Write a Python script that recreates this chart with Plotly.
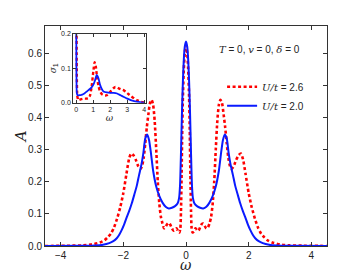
import plotly.graph_objects as go

# ---- main panel: spectral function A(omega) ----
omega_red = [-4.5, -3.7, -3.3, -3.0, -2.75, -2.6, -2.5, -2.4, -2.3, -2.2, -2.1, -2.0, -1.9, -1.82,
             -1.75, -1.68, -1.6, -1.52, -1.45, -1.4, -1.35, -1.3, -1.25, -1.2, -1.15, -1.1, -1.05,
             -1.0, -0.95, -0.9, -0.85, -0.8, -0.75, -0.7, -0.65, -0.6, -0.55, -0.5, -0.45, -0.4,
             -0.35, -0.3, -0.25, -0.21, -0.18, -0.16, -0.14, -0.12, -0.1, -0.07, -0.04, 0.0,
             0.04, 0.07, 0.1, 0.12, 0.14, 0.16, 0.18, 0.21, 0.25, 0.3, 0.35, 0.4, 0.45, 0.5,
             0.55, 0.6, 0.65, 0.7, 0.75, 0.8, 0.85, 0.9, 0.95, 1.0, 1.05, 1.1, 1.15, 1.2, 1.25,
             1.3, 1.35, 1.4, 1.45, 1.52, 1.6, 1.68, 1.75, 1.82, 1.9, 2.0, 2.1, 2.2, 2.3, 2.4,
             2.5, 2.6, 2.75, 3.0, 3.3, 3.7, 4.5]
A_red = [0.0, 0.001, 0.002, 0.005, 0.011, 0.018, 0.027, 0.038, 0.057, 0.085, 0.12, 0.165, 0.225, 0.27,
         0.288, 0.283, 0.268, 0.248, 0.24, 0.25, 0.275, 0.32, 0.37, 0.41, 0.445, 0.455, 0.44,
         0.39, 0.30, 0.20, 0.13, 0.09, 0.07, 0.055, 0.06, 0.068, 0.072, 0.066, 0.055, 0.048,
         0.05, 0.055, 0.045, 0.042, 0.055, 0.11, 0.22, 0.36, 0.46, 0.55, 0.60, 0.625,
         0.60, 0.55, 0.46, 0.36, 0.22, 0.11, 0.055, 0.042, 0.045, 0.055, 0.05, 0.048, 0.058, 0.068,
         0.070, 0.062, 0.055, 0.058, 0.07, 0.09, 0.13, 0.20, 0.30, 0.39, 0.44, 0.455, 0.445, 0.41, 0.37,
         0.32, 0.275, 0.25, 0.24, 0.248, 0.268, 0.283, 0.288, 0.27, 0.225, 0.165, 0.12, 0.085, 0.057, 0.038,
         0.027, 0.018, 0.011, 0.005, 0.002, 0.001, 0.0]

omega_blue = [-4.5, -3.3, -2.9, -2.65, -2.45, -2.32, -2.21, -2.13, -2.05, -1.97, -1.89, -1.81, -1.73,
              -1.65, -1.57, -1.5, -1.42, -1.36, -1.3, -1.24, -1.18, -1.12, -1.05, -0.95, -0.85,
              -0.75, -0.65, -0.55, -0.45, -0.35, -0.27, -0.22, -0.19, -0.16, -0.13, -0.1, -0.07,
              -0.04, 0.0, 0.04, 0.07, 0.1, 0.13, 0.16, 0.19, 0.22, 0.27, 0.35, 0.45, 0.55, 0.65,
              0.75, 0.85, 0.95, 1.05, 1.12, 1.18, 1.24, 1.3, 1.36, 1.42, 1.5, 1.57, 1.65, 1.73,
              1.81, 1.89, 1.97, 2.05, 2.13, 2.21, 2.32, 2.45, 2.65, 2.9, 3.3, 4.5]
A_blue = [0.0, 0.0005, 0.0015, 0.004, 0.009, 0.015, 0.024, 0.035, 0.05, 0.068, 0.09, 0.11, 0.133,
          0.16, 0.188, 0.22, 0.255, 0.29, 0.335, 0.347, 0.33, 0.29, 0.235, 0.185, 0.155,
          0.135, 0.122, 0.117, 0.119, 0.124, 0.132, 0.15, 0.19, 0.29, 0.41, 0.51, 0.58,
          0.62, 0.637, 0.62, 0.58, 0.51, 0.41, 0.29, 0.19, 0.15, 0.132, 0.124, 0.119, 0.117, 0.122,
          0.135, 0.155, 0.185, 0.235, 0.29, 0.33, 0.347, 0.335, 0.29, 0.255, 0.22, 0.188, 0.16, 0.133,
          0.11, 0.09, 0.068, 0.05, 0.035, 0.024, 0.015, 0.009, 0.004, 0.0015, 0.0005, 0.0]

# ---- inset: optical conductivity sigma_1(omega) ----
omega_in_red = [0.0, 0.03, 0.06, 0.12, 0.25, 0.4, 0.55, 0.7, 0.8, 0.9, 1.0, 1.08, 1.15, 1.22, 1.3,
                1.4, 1.5, 1.6, 1.7, 1.8, 1.9, 2.0, 2.1, 2.2, 2.3, 2.4, 2.5, 2.6, 2.7, 2.8, 2.9,
                3.0, 3.1, 3.2, 3.4, 3.6, 3.8, 4.0]
sigma_red = [0.5, 0.1, 0.02, 0.008, 0.01, 0.012, 0.012, 0.013, 0.02, 0.045, 0.09, 0.118, 0.105, 0.075,
             0.05, 0.033, 0.025, 0.022, 0.021, 0.022, 0.026, 0.032, 0.038, 0.043, 0.046, 0.045, 0.042,
             0.04, 0.038, 0.036, 0.032, 0.028, 0.024, 0.02, 0.013, 0.007, 0.003, 0.001]

omega_in_blue = [0.0, 0.03, 0.06, 0.1, 0.2, 0.3, 0.4, 0.5, 0.6, 0.7, 0.8, 0.9, 1.0, 1.1, 1.2, 1.3,
                 1.4, 1.5, 1.6, 1.8, 2.0, 2.2, 2.4, 2.6, 2.8, 3.0, 3.2, 3.4, 3.6, 3.8, 4.0]
sigma_blue = [0.5, 0.03, 0.023, 0.022, 0.022, 0.023, 0.025, 0.028, 0.032, 0.036, 0.04, 0.045, 0.052,
              0.065, 0.081, 0.072, 0.052, 0.04, 0.033, 0.03, 0.029, 0.029, 0.027, 0.022, 0.017,
              0.012, 0.008, 0.005, 0.003, 0.001, 0.0005]

labels = ["U/t = 2.6", "U/t = 2.0"]
x_ticks = [-4, -2, 0, 2, 4]
y_ticks = [0.0, 0.1, 0.2, 0.3, 0.4, 0.5, 0.6]
inset_x_ticks = [0, 1, 2, 3, 4]
inset_y_ticks = [0.0, 0.1, 0.2]

RED = "#ff0000"
BLUE = "#0a1aff"
SANS = "Liberation Sans"
SERIF = "DejaVu Serif"
RED_DASH = "3px,2.5px"


def math(s):
    return f"<span style=\"font-family:'{SERIF}';font-style:italic\">{s}</span>"


def legend_label(s):
    var, rest = s.split(" = ")
    return f"{math(var)} = {rest}"


fig = go.Figure()
fig.add_trace(go.Scatter(x=omega_red, y=A_red, mode="lines", name=legend_label(labels[0]),
                         line=dict(color=RED, width=2.6, dash=RED_DASH, shape="spline", smoothing=0.6),
                         xaxis="x", yaxis="y"))
fig.add_trace(go.Scatter(x=omega_blue, y=A_blue, mode="lines", name=legend_label(labels[1]),
                         line=dict(color=BLUE, width=2, shape="spline", smoothing=0.6),
                         xaxis="x", yaxis="y"))
fig.add_trace(go.Scatter(x=omega_in_red, y=sigma_red, mode="lines", showlegend=False,
                         line=dict(color=RED, width=2.4, dash=RED_DASH, shape="spline", smoothing=0.5),
                         xaxis="x2", yaxis="y2"))
fig.add_trace(go.Scatter(x=omega_in_blue, y=sigma_blue, mode="lines", showlegend=False,
                         line=dict(color=BLUE, width=1.8, shape="spline", smoothing=0.5),
                         xaxis="x2", yaxis="y2"))

axis_common = dict(showgrid=False, zeroline=False, showline=True, linecolor="#333333", linewidth=1,
                   ticks="inside", mirror="ticks", tickcolor="#333333", automargin=False)

# the page body adds an 8px offset, so the figure is 8px smaller and margins shifted
fig.update_layout(
    width=355, height=265,
    margin=dict(l=37, r=36, t=18, b=27),
    paper_bgcolor="white", plot_bgcolor="white",
    font=dict(family=SANS, size=10, color="#222222"),
    xaxis=dict(range=[-4.5, 4.5], tickvals=x_ticks, ticklen=4, tickfont=dict(size=10),
               domain=[0, 1], **axis_common),
    yaxis=dict(range=[0, 0.685], tickvals=y_ticks, tickformat=".1f", ticklen=4,
               tickfont=dict(size=10), domain=[0, 1],
               **axis_common),
    xaxis2=dict(domain=[0.1, 0.357], anchor="y2", range=[-0.18, 4.08], tickvals=inset_x_ticks,
                ticklen=3, tickfont=dict(size=7),
                title=dict(text=math("ω"), font=dict(size=9), standoff=0),
                **axis_common),
    yaxis2=dict(domain=[0.651, 0.9636], anchor="x2", range=[0, 0.2], tickvals=inset_y_ticks,
                tickformat=".1f", ticklen=3, tickfont=dict(size=7),
                title=dict(text=math("σ") + "<sub>1</sub>", font=dict(size=9), standoff=2),
                **axis_common),
    legend=dict(x=0.628, y=0.79, xanchor="left", yanchor="top", bgcolor="rgba(0,0,0,0)",
                font=dict(size=10), itemwidth=30, tracegroupgap=0),
    showlegend=True,
)

# axis titles of the main panel
fig.add_annotation(xref="paper", yref="paper", x=-0.085, y=0.495, xanchor="center", yanchor="middle",
                   text=math("A"), textangle=-90, showarrow=False,
                   font=dict(size=15, color="#222222"))
fig.add_annotation(xref="paper", yref="paper", x=0.5, y=-0.085, xanchor="center", yanchor="middle",
                   text=math("ω"), showarrow=False,
                   font=dict(size=14, color="#222222"))

fig.add_annotation(xref="paper", yref="paper", x=0.759, y=0.891, xanchor="center", yanchor="middle",
                   text=f"{math('T')} = 0, {math('v')} = 0, {math('δ')} = 0",
                   showarrow=False, font=dict(size=10, family=SANS, color="#222222"))

fig.write_html("out.html")
